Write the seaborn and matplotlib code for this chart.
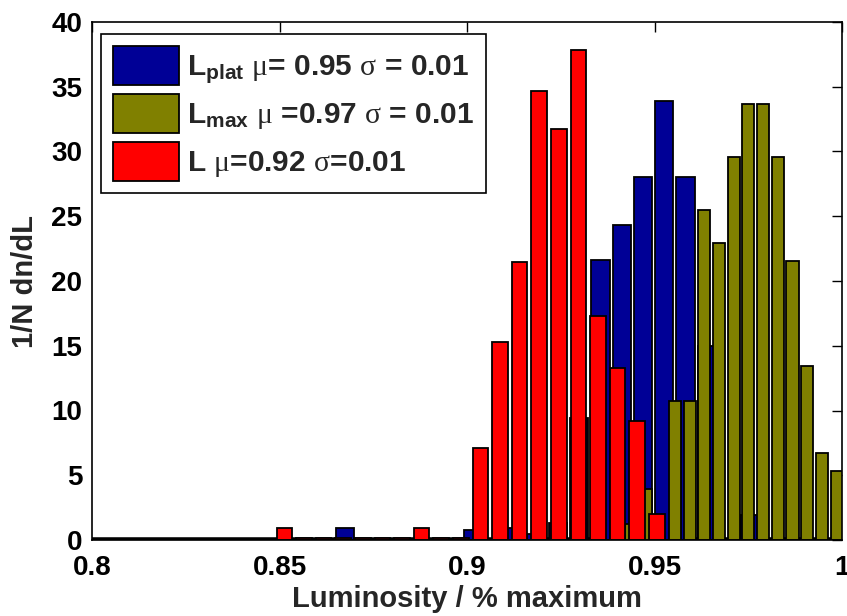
import numpy as np
import pandas as pd
import matplotlib
matplotlib.use("Agg")
import matplotlib.pyplot as plt
from matplotlib.patches import Patch
import seaborn as sns

# ---------------- data ----------------
# L_plat histogram (blue): first bin centre, bin step, values
plat_first, plat_step = 0.7993, 0.00568
plat_values = [0, 0, 0, 0, 0, 0, 0, 0, 0, 0, 0, 0,
               0.95, 0, 0, 0, 0, 0, 0.8, 0, 0.93, 0.5, 1.3, 9.4,
               21.6, 24.3, 28.05, 33.9, 28.05, 15.0, 0, 1.93, 0, 0, 0]

# L_max histogram (olive)
max_first, max_step = 0.8026, 0.00392
max_values = [0, 0, 0, 0, 0, 0, 0, 0, 0, 0, 0, 0,
              0, 0, 0, 0, 0, 0, 0, 0, 0, 0, 0, 0,
              0, 0, 0, 0, 0, 0, 0, 0, 0, 0, 0, 0,
              1.2, 3.94, 0, 10.73, 10.73, 25.48, 22.9, 29.6, 33.64,
              33.64, 29.6, 21.57, 13.46, 6.69, 5.33]

# L histogram (red)
l_first, l_step = 0.8513, 0.00523
l_values = [0.95, 0.15, 0.15, 0.15, 0.15, 0.15, 0.15, 0.95, 0.15, 0.15,
            7.13, 15.26, 21.44, 34.67, 31.71, 37.84, 17.32, 13.3, 9.21, 1.98]

labels = [r'L$_{\mathrm{plat}}$ $\mu$= 0.95 $\sigma$ = 0.01',
          r'L$_{\mathrm{max}}$ $\mu$ =0.97 $\sigma$ = 0.01',
          r'L $\mu$=0.92 $\sigma$=0.01']
colors = ['#000096', '#808000', '#ff0000']

x_ticks = [0.8, 0.85, 0.9, 0.95, 1.0]
x_tick_labels = ['0.8', '0.85', '0.9', '0.95', '1']
y_ticks = [0, 5, 10, 15, 20, 25, 30, 35, 40]

# ---------------- style ----------------
sns.set_theme(style="white")
plt.rcParams['font.family'] = ['Liberation Sans', 'DejaVu Sans']
plt.rcParams['font.weight'] = 'bold'
plt.rcParams['mathtext.fontset'] = 'custom'
plt.rcParams['mathtext.rm'] = 'Liberation Sans:bold'
plt.rcParams['mathtext.bf'] = 'Liberation Sans:bold'
plt.rcParams['mathtext.it'] = 'Liberation Serif:weight=normal'

fig = plt.figure(figsize=(8.47, 6.16), dpi=100)
ax = fig.add_axes([92 / 847, 1 - 540 / 616, 750 / 847, 518 / 616])

# heavy bar baseline (drawn beneath the bars)
ax.axhline(0, color='black', linewidth=4, zorder=0.5)

series = [
    (plat_first, plat_step, plat_values, 0.86),
    (max_first, max_step, max_values, 0.82),
    (l_first, l_step, l_values, 0.8),
]

for (first, step, vals, shrink), col in zip(series, colors):
    n = len(vals)
    centers = first + step * np.arange(n)
    lo = first - step / 2
    hi = lo + step * (n - 0.01)
    df = pd.DataFrame({'x': centers, 'w': vals})
    sns.histplot(data=df, x='x', weights='w', binwidth=step,
                 binrange=(lo, hi), shrink=shrink,
                 color=col, edgecolor='black', linewidth=1.3, alpha=1,
                 ax=ax)

ax.set_xlim(0.8, 1.0)
ax.set_ylim(0, 40)
ax.set_xticks(x_ticks)
ax.set_xticklabels(x_tick_labels)
ax.set_yticks(y_ticks)
ax.tick_params(direction='in', length=7, width=1, top=True, right=True,
               labelsize=20, colors='black')
ax.tick_params(axis='x', pad=11)
ax.tick_params(axis='y', pad=7)
for lab in ax.get_xticklabels() + ax.get_yticklabels():
    lab.set_fontweight('bold')
for sp in ax.spines.values():
    sp.set_visible(True)
    sp.set_color('black')
    sp.set_linewidth(1.2)
    sp.set_zorder(3)

ax.set_xlabel('Luminosity / % maximum', fontsize=21, fontweight='bold',
              labelpad=3)
ax.set_ylabel('1/N dn/dL', fontsize=21, fontweight='bold', labelpad=9)

handles = [Patch(facecolor=c, edgecolor='black', linewidth=1.3) for c in colors]
leg = ax.legend(handles, labels, loc='upper left',
                bbox_to_anchor=(0.012, 0.977), fontsize=21.5,
                frameon=True, fancybox=False, framealpha=1,
                edgecolor='black', handlelength=2.2, handleheight=1.65,
                handletextpad=0.27, labelspacing=0.28, borderpad=0.4,
                borderaxespad=0)
leg.get_frame().set_linewidth(1.2)

fig.savefig('out.png', dpi=100, facecolor='white')
